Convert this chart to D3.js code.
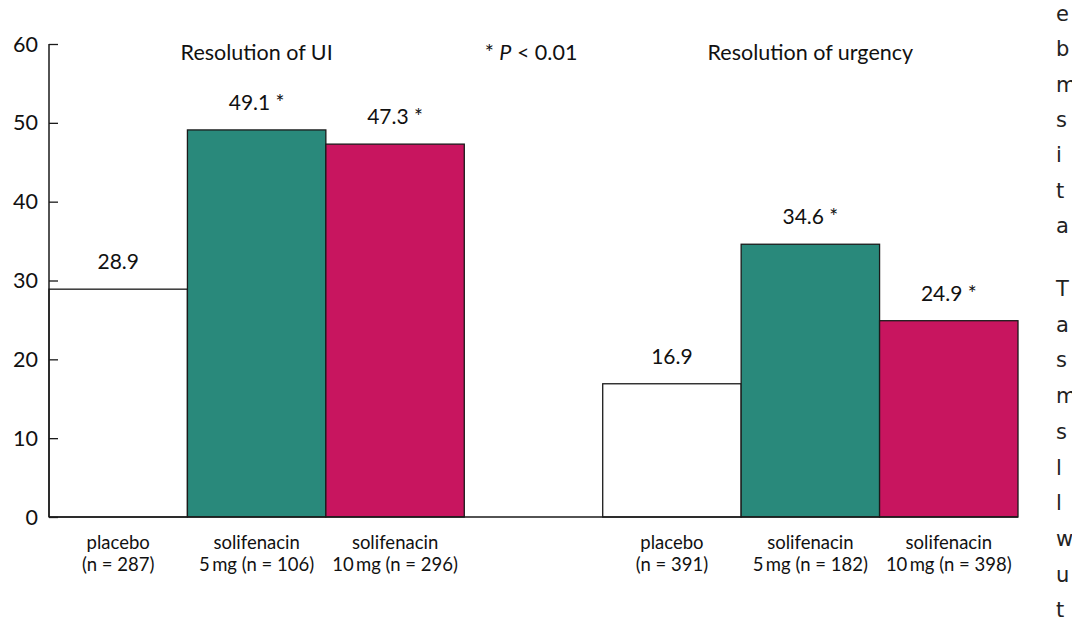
<!DOCTYPE html>
<html><head><meta charset="utf-8">
<script src="https://cdn.jsdelivr.net/npm/d3@7"></script>
<style>
html,body{margin:0;padding:0;background:#fff;overflow:hidden}
svg{display:block}
</style></head>
<body>
<svg id="c" width="1072" height="634"></svg>
<script>
const groups = ["Resolution of UI", "Resolution of urgency"];
const categories = ["placebo", "solifenacin 5 mg", "solifenacin 10 mg"];
const catLine1 = ["placebo", "solifenacin", "solifenacin"];
const catLine2UI = ["(n = 287)", "5\u2009mg (n = 106)", "10\u2009mg (n = 296)"];
const catLine2Urg = ["(n = 391)", "5\u2009mg (n = 182)", "10\u2009mg (n = 398)"];
const valuesUI = [28.9, 49.1, 47.3];
const valuesUrg = [16.9, 34.6, 24.9];
const sigUI = [false, true, true];
const sigUrg = [false, true, true];
const yTicks = [0, 10, 20, 30, 40, 50, 60];
const colors = ["#ffffff", "#29897b", "#c8155f"];
const sideText = ["e", "b", "m", "s", "i", "t", "a", "", "T", "a", "s", "m", "s", "l", "l", "w", "u", "t", "e"];

const svg = d3.select("#c");
const font = "Lato, 'Open Sans', sans-serif";

const slots = ["g0c0","g0c1","g0c2","gap","g1c0","g1c1","g1c2"];
const x = d3.scaleBand().domain(slots).range([49, 1018]).padding(0);
const y = d3.scaleLinear().domain([0, 60]).range([517, 44]);

const bars = [];
[[valuesUI, sigUI, catLine2UI],[valuesUrg, sigUrg, catLine2Urg]].forEach((g, gi) => {
  g[0].forEach((v, ci) => bars.push({slot: `g${gi}c${ci}`, v, sig: g[1][ci], ci, l1: catLine1[ci], l2: g[2][ci]}));
});

// bars
svg.append("g").selectAll("rect").data(bars).join("rect")
  .attr("x", d => x(d.slot))
  .attr("y", d => y(d.v))
  .attr("width", x.bandwidth())
  .attr("height", d => y(0) - y(d.v))
  .attr("fill", d => colors[d.ci])
  .attr("stroke", "#1a1a1a")
  .attr("stroke-width", 1.3);

// value labels
svg.append("g").selectAll("text").data(bars).join("text")
  .attr("x", d => x(d.slot) + x.bandwidth()/2)
  .attr("y", d => y(d.v) - 20)
  .attr("text-anchor", "middle")
  .attr("font-family", font).attr("font-size", 21).attr("fill", "#111")
  .text(d => d.v.toFixed(1) + (d.sig ? " *" : ""));

// category labels
const cl = svg.append("g").selectAll("text").data(bars).join("text")
  .attr("text-anchor", "middle")
  .attr("font-family", font).attr("font-size", 18.5).attr("fill", "#111");
cl.append("tspan").attr("x", d => x(d.slot) + x.bandwidth()/2).attr("y", 549).text(d => d.l1);
cl.append("tspan").attr("x", d => x(d.slot) + x.bandwidth()/2).attr("y", 571).text(d => d.l2);

// baseline
svg.append("line").attr("x1", 49).attr("x2", x.range()[1]).attr("y1", y(0)).attr("y2", y(0))
  .attr("stroke", "#1a1a1a").attr("stroke-width", 1.5);

// y axis
const ya = d3.axisRight(y).tickValues(yTicks).tickSize(9).tickFormat("");
const yg = svg.append("g").attr("transform", "translate(49,0)").call(ya);
yg.select(".domain").attr("stroke", "#1a1a1a").attr("stroke-width", 1.5).attr("d", `M0,${y(60)}V${y(0)}`);
yg.selectAll(".tick line").attr("stroke", "#1a1a1a").attr("stroke-width", 1.3);
svg.append("g").selectAll("text").data(yTicks).join("text")
  .attr("x", 38).attr("y", d => y(d) + 7.5)
  .attr("text-anchor", "end")
  .attr("font-family", font).attr("font-size", 21.5).attr("fill", "#111")
  .text(d => d);

// group titles
const titleX = [ (x("g0c0") + x("g0c2") + x.bandwidth())/2, (x("g1c0") + x("g1c2") + x.bandwidth())/2 ];
svg.append("g").selectAll("text").data(groups).join("text")
  .attr("x", (d,i) => titleX[i])
  .attr("y", 60)
  .attr("text-anchor", "middle")
  .attr("font-family", font).attr("font-size", 21.5).attr("fill", "#111")
  .text(d => d);

// significance note
const note = svg.append("text").attr("x", 531).attr("y", 60).attr("text-anchor", "middle")
  .attr("font-family", font).attr("font-size", 21.5).attr("fill", "#111");
note.append("tspan").text("* ");
note.append("tspan").attr("font-style", "italic").text("P");
note.append("tspan").text(" < 0.01");

// cropped side text (neighbouring page column)
svg.append("g").selectAll("text").data(sideText).join("text")
  .attr("x", 1056)
  .attr("y", (d, i) => i < 7 ? 21 + i * 35.3 : 296 + (i - 8) * 35.7)
  .attr("font-family", "'DejaVu Sans', sans-serif").attr("font-size", 21).attr("fill", "#222")
  .text(d => d);
</script>
</body></html>
